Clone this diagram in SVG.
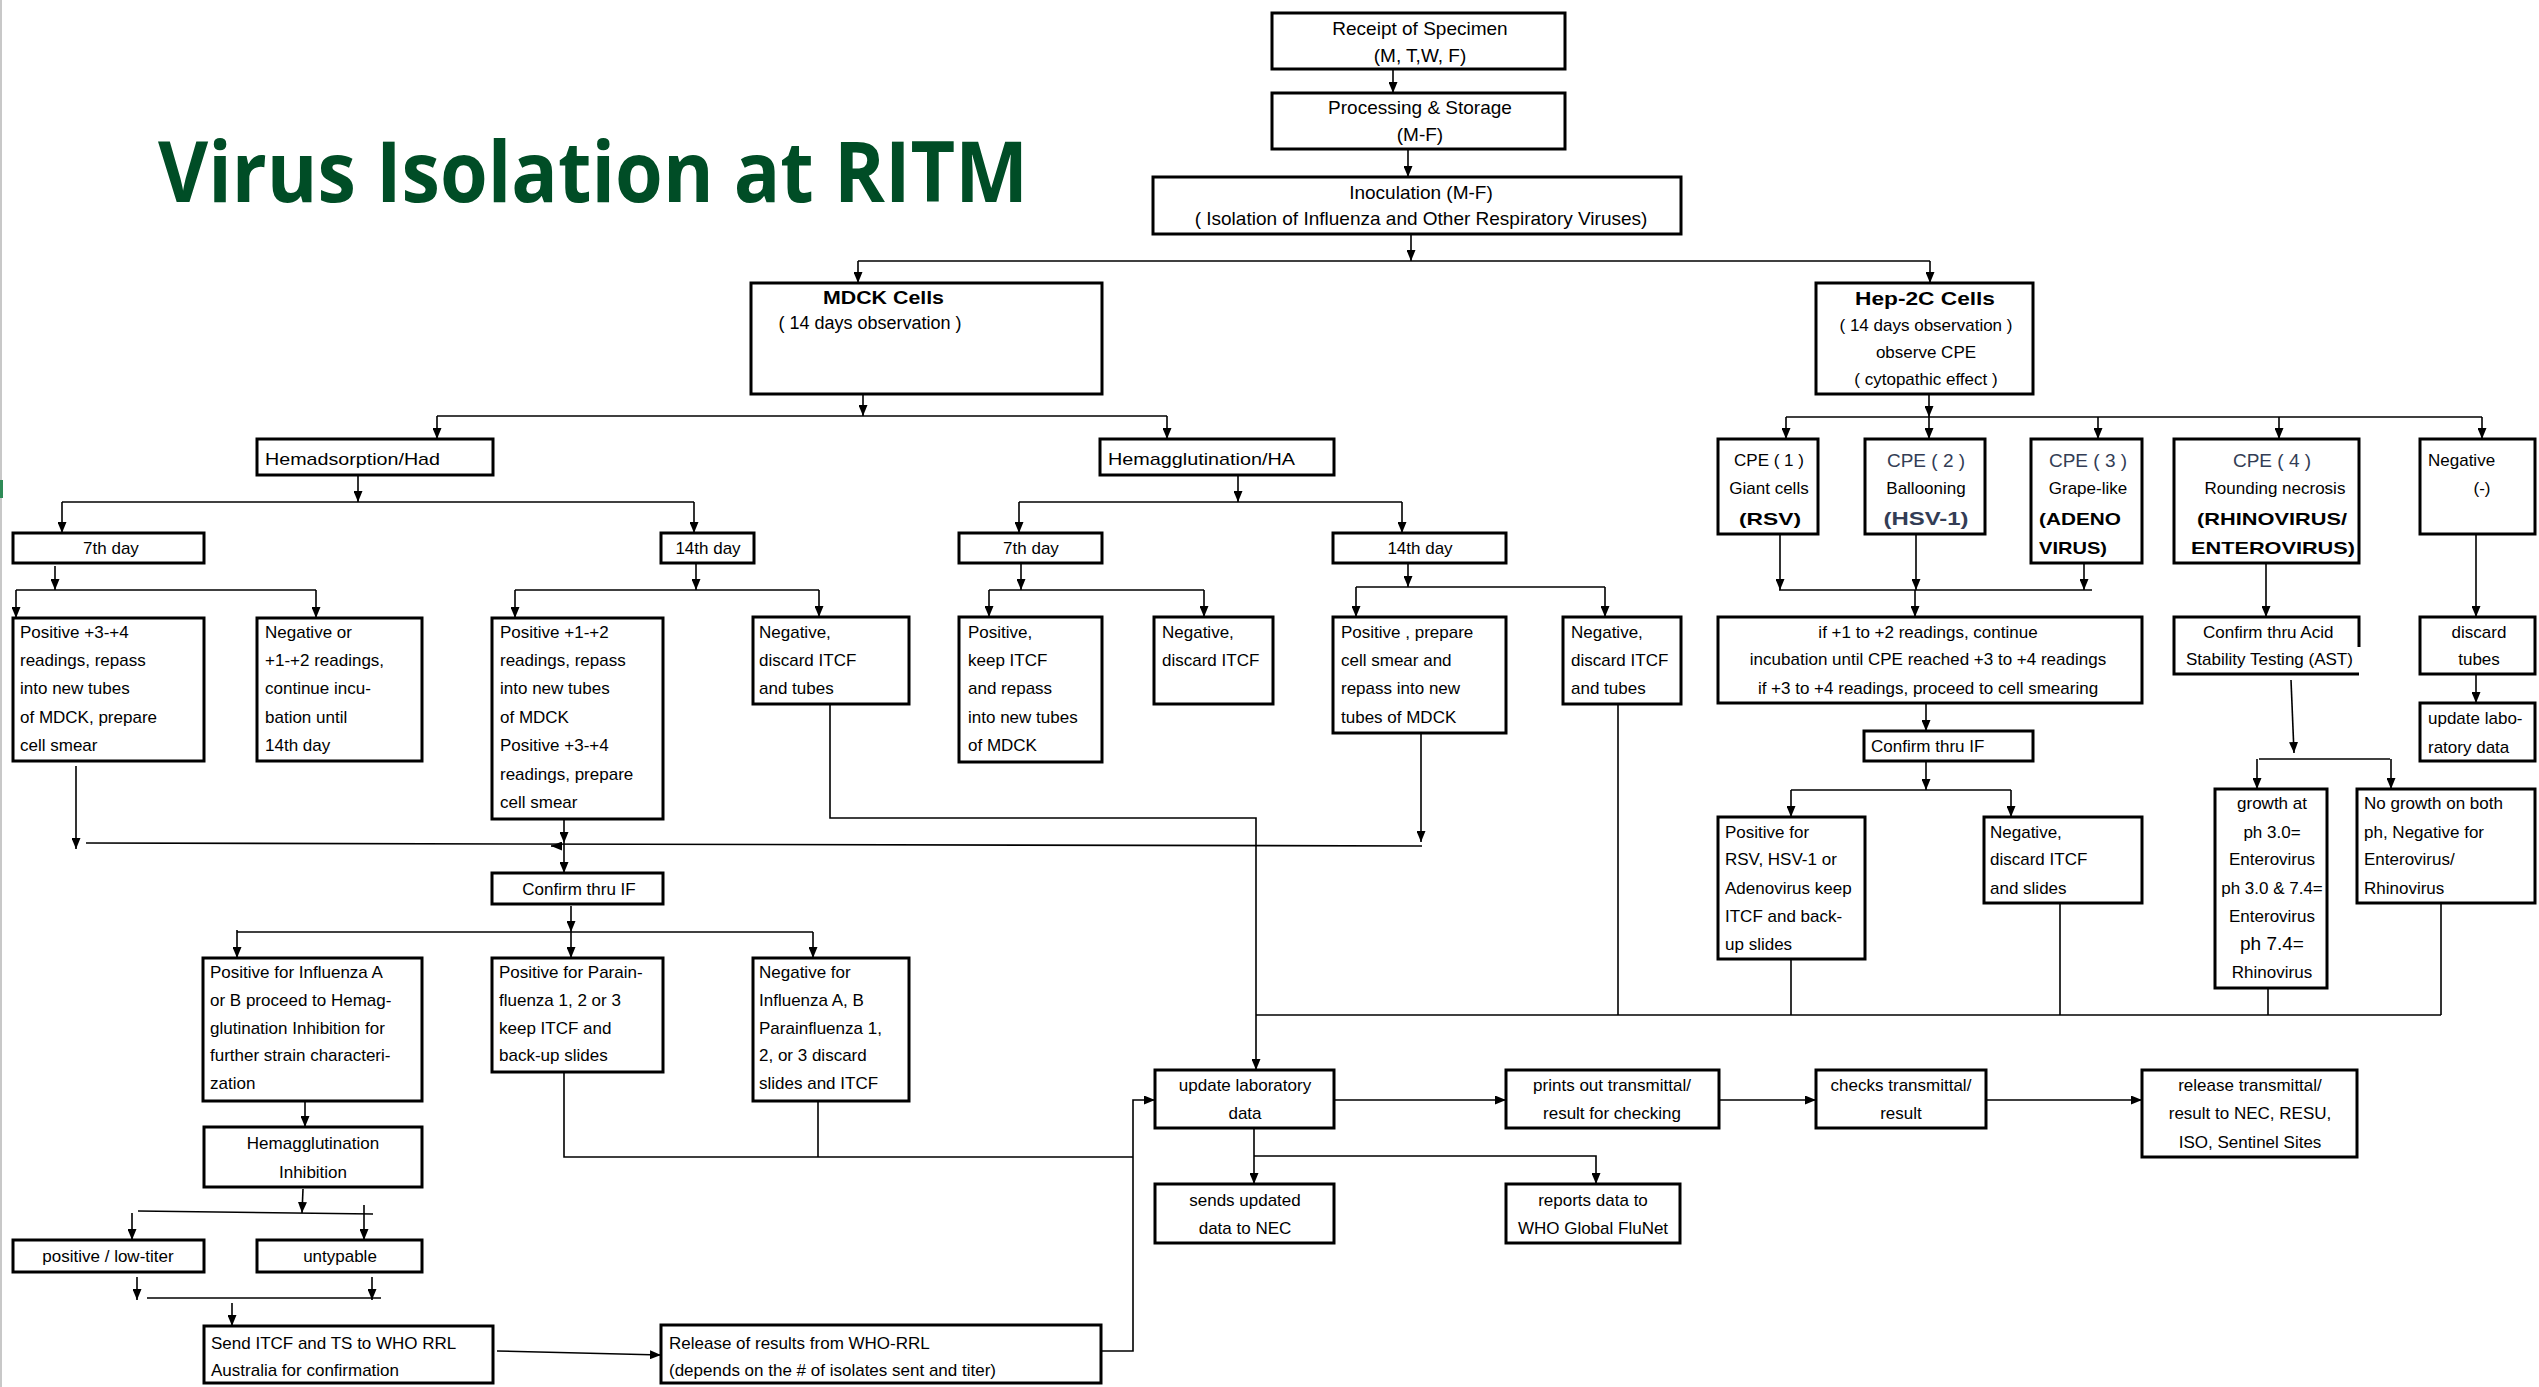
<svg xmlns="http://www.w3.org/2000/svg" width="2539" height="1387" viewBox="0 0 2539 1387">
<defs>
<marker id="ah" viewBox="0 0 11 9" refX="11" refY="4.5" markerWidth="11" markerHeight="9" markerUnits="userSpaceOnUse" orient="auto">
<path d="M0,0 L11,4.5 L0,9 z" fill="#000"/>
</marker>
<style>
.box{fill:#fff;stroke:#000;stroke-width:3}
.t{font-family:"Liberation Sans",Arial,sans-serif;font-size:17px;fill:#000}
.c{text-anchor:middle}
.b{font-weight:bold}
.big{font-size:19px}
.blu{fill:#333d55}
.ln{stroke:#000;stroke-width:1.6;fill:none}
.ar{marker-end:url(#ah)}
</style>
</defs>
<rect x="0" y="0" width="2539" height="1387" fill="#fff"/>
<line x1="1" y1="0" x2="1" y2="1387" stroke="#c8c8c8" stroke-width="2"/>
<rect x="0" y="480" width="3" height="18" fill="#2e8b57"/>
<text x="158" y="202" font-family="'Open Sans','Noto Sans',sans-serif" font-weight="bold" font-size="84" fill="#004d26" textLength="870" lengthAdjust="spacingAndGlyphs">Virus Isolation at RITM</text>

<g id="connectors">
<path class="ln ar" d="M1393,69 V93"/>
<path class="ln ar" d="M1408,149 V177"/>
<path class="ln ar" d="M1411,234 V261"/>
<path class="ln" d="M858,261 H1930"/>
<path class="ln ar" d="M858,261 V283"/>
<path class="ln ar" d="M1930,261 V283"/>
<path class="ln ar" d="M863,394 V416"/>
<path class="ln" d="M437,416 H1167"/>
<path class="ln ar" d="M437,416 V439"/>
<path class="ln ar" d="M1167,416 V439"/>
<path class="ln ar" d="M358,475 V502"/>
<path class="ln" d="M62,502 H694"/>
<path class="ln ar" d="M62,502 V533"/>
<path class="ln ar" d="M694,502 V533"/>
<path class="ln ar" d="M1238,475 V502"/>
<path class="ln" d="M1019,502 H1402"/>
<path class="ln ar" d="M1019,502 V533"/>
<path class="ln ar" d="M1402,502 V533"/>
<path class="ln ar" d="M55,566 V590"/>
<path class="ln" d="M16,590 H316"/>
<path class="ln ar" d="M16,590 V618"/>
<path class="ln ar" d="M316,590 V618"/>
<path class="ln ar" d="M696,563 V590"/>
<path class="ln" d="M515,590 H819"/>
<path class="ln ar" d="M515,590 V618"/>
<path class="ln ar" d="M819,590 V617"/>
<path class="ln ar" d="M1021,563 V590"/>
<path class="ln" d="M989,590 H1204"/>
<path class="ln ar" d="M989,590 V617"/>
<path class="ln ar" d="M1204,590 V617"/>
<path class="ln ar" d="M1408,563 V587"/>
<path class="ln" d="M1356,587 H1605"/>
<path class="ln ar" d="M1356,587 V617"/>
<path class="ln ar" d="M1605,587 V617"/>
<path class="ln ar" d="M76,766 V849"/>
<path class="ln" d="M86,843 L1422,846"/>
<path class="ln ar" d="M1421,733 V842"/>
<path class="ln ar" d="M564,819 V843"/>
<path class="ln ar" d="M564,843 V873"/>
<path class="ln ar" d="M562,846 L551,846"/>
<path class="ln ar" d="M571,906 V932"/>
<path class="ln" d="M237,932 H813"/>
<path class="ln ar" d="M237,930 V958"/>
<path class="ln ar" d="M571,932 V958"/>
<path class="ln ar" d="M813,932 V958"/>
<path class="ln ar" d="M305,1101 V1127"/>
<path class="ln ar" d="M303,1189 L302,1213"/>
<path class="ln" d="M138,1211 L373,1214"/>
<path class="ln ar" d="M132,1213 V1240"/>
<path class="ln ar" d="M364,1205 V1240"/>
<path class="ln ar" d="M137,1277 V1300"/>
<path class="ln ar" d="M372,1277 V1300"/>
<path class="ln" d="M147,1298 H381"/>
<path class="ln ar" d="M232,1303 V1326"/>
<path class="ln ar" d="M497,1351 L661,1355"/>
<path class="ln ar" d="M1101,1351 H1133 V1100 H1155"/>
<path class="ln" d="M564,1072 V1157 H1133"/>
<path class="ln" d="M818,1101 V1157"/>
<path class="ln ar" d="M830,704 V818 H1256 V1070"/>
<path class="ln" d="M1256,1015 H2441"/>
<path class="ln" d="M1618,704 V1015"/>
<path class="ln" d="M1791,959 V1015"/>
<path class="ln" d="M2060,903 V1015"/>
<path class="ln" d="M2268,988 V1015"/>
<path class="ln" d="M2441,903 V1015"/>
<path class="ln ar" d="M1254,1128 V1184"/>
<path class="ln ar" d="M1254,1156 H1596 V1184"/>
<path class="ln ar" d="M1334,1100 H1506"/>
<path class="ln ar" d="M1719,1100 H1816"/>
<path class="ln ar" d="M1986,1100 H2142"/>
<path class="ln ar" d="M1929,394 V417"/>
<path class="ln" d="M1786,417 H2482"/>
<path class="ln ar" d="M1786,417 V439"/>
<path class="ln ar" d="M1929,417 V439"/>
<path class="ln ar" d="M2098,417 V439"/>
<path class="ln ar" d="M2279,417 V439"/>
<path class="ln ar" d="M2482,417 V439"/>
<path class="ln ar" d="M1780,534 V590"/>
<path class="ln ar" d="M1916,534 V590"/>
<path class="ln ar" d="M2084,563 V590"/>
<path class="ln" d="M1779,590 H2092"/>
<path class="ln ar" d="M1915,590 V617"/>
<path class="ln ar" d="M2266,563 V617"/>
<path class="ln ar" d="M2476,534 V617"/>
<path class="ln ar" d="M1926,703 V731"/>
<path class="ln ar" d="M1926,761 V790"/>
<path class="ln" d="M1791,790 H2011"/>
<path class="ln ar" d="M1791,790 V817"/>
<path class="ln ar" d="M2011,790 V817"/>
<path class="ln ar" d="M2291,680 L2294,753"/>
<path class="ln" d="M2259,759 H2390"/>
<path class="ln ar" d="M2257,759 V789"/>
<path class="ln ar" d="M2391,759 V789"/>
<path class="ln ar" d="M2476,674 V703"/>
</g>

<g id="n-receipt"><rect class="box" x="1272" y="13" width="293" height="56"/>
<text class="t big c" x="1420" y="35">Receipt of Specimen</text><text class="t big c" x="1420" y="62">(M, T,W, F)</text></g>
<g id="n-processing"><rect class="box" x="1272" y="93" width="293" height="56"/>
<text class="t big c" x="1420" y="114">Processing &amp; Storage</text><text class="t big c" x="1420" y="141">(M-F)</text></g>
<g id="n-inoculation"><rect class="box" x="1153" y="177" width="528" height="57"/>
<text class="t big c" x="1421" y="199">Inoculation  (M-F)</text><text class="t big c" x="1421" y="225">( Isolation of Influenza and Other Respiratory Viruses)</text></g>

<g id="n-mdck"><rect class="box" x="751" y="283" width="351" height="111"/>
<text class="t big b" x="823" y="304" textLength="121" lengthAdjust="spacingAndGlyphs">MDCK Cells</text><text class="t c" x="870" y="329" style="font-size:18px">( 14 days observation )</text></g>
<g id="n-hep2c"><rect class="box" x="1816" y="283" width="217" height="111"/>
<text class="t big b" x="1855" y="305" textLength="140" lengthAdjust="spacingAndGlyphs">Hep-2C Cells</text>
<text class="t c" x="1926" y="331">( 14 days observation )</text>
<text class="t c" x="1926" y="358">observe CPE</text>
<text class="t c" x="1926" y="385">( cytopathic effect )</text></g>

<g id="n-had"><rect class="box" x="257" y="439" width="236" height="36"/><text class="t" x="265" y="465" textLength="175" lengthAdjust="spacingAndGlyphs">Hemadsorption/Had</text></g>
<g id="n-ha"><rect class="box" x="1100" y="439" width="234" height="36"/><text class="t" x="1108" y="465" textLength="187" lengthAdjust="spacingAndGlyphs">Hemagglutination/HA</text></g>

<g id="n-had-7th"><rect class="box" x="13" y="533" width="191" height="30"/><text class="t c" x="111" y="554">7th day</text></g>
<g id="n-had-14th"><rect class="box" x="661" y="533" width="93" height="30"/><text class="t c" x="708" y="554">14th day</text></g>
<g id="n-ha-7th"><rect class="box" x="959" y="533" width="143" height="30"/><text class="t c" x="1031" y="554">7th day</text></g>
<g id="n-ha-14th"><rect class="box" x="1333" y="533" width="173" height="30"/><text class="t c" x="1420" y="554">14th day</text></g>

<g id="n-had7-pos"><rect class="box" x="13" y="618" width="191" height="143"/>
<text class="t" x="20" y="638">Positive +3-+4</text><text class="t" x="20" y="666">readings,  repass</text><text class="t" x="20" y="694">into new tubes</text><text class="t" x="20" y="723">of MDCK, prepare</text><text class="t" x="20" y="751">cell smear</text></g>
<g id="n-had7-neg"><rect class="box" x="257" y="618" width="165" height="143"/>
<text class="t" x="265" y="638">Negative or</text><text class="t" x="265" y="666"> +1-+2 readings,</text><text class="t" x="265" y="694">continue incu-</text><text class="t" x="265" y="723">bation until</text><text class="t" x="265" y="751">14th day</text></g>
<g id="n-had14-pos"><rect class="box" x="492" y="618" width="171" height="201"/>
<text class="t" x="500" y="638">Positive +1-+2</text><text class="t" x="500" y="666">readings, repass</text><text class="t" x="500" y="694">into new tubes</text><text class="t" x="500" y="723">of MDCK</text><text class="t" x="500" y="751">Positive +3-+4</text><text class="t" x="500" y="780">readings,  prepare</text><text class="t" x="500" y="808">cell smear</text></g>
<g id="n-had14-neg"><rect class="box" x="753" y="617" width="156" height="87"/>
<text class="t" x="759" y="638">Negative,</text><text class="t" x="759" y="666">discard ITCF</text><text class="t" x="759" y="694">and  tubes</text></g>
<g id="n-ha7-pos"><rect class="box" x="959" y="617" width="143" height="145"/>
<text class="t" x="968" y="638">Positive,</text><text class="t" x="968" y="666">keep ITCF</text><text class="t" x="968" y="694">and repass</text><text class="t" x="968" y="723">into new tubes</text><text class="t" x="968" y="751">of MDCK</text></g>
<g id="n-ha7-neg"><rect class="box" x="1154" y="617" width="119" height="87"/>
<text class="t" x="1162" y="638">Negative,</text><text class="t" x="1162" y="666">discard ITCF</text></g>
<g id="n-ha14-pos"><rect class="box" x="1333" y="617" width="173" height="116"/>
<text class="t" x="1341" y="638">Positive , prepare</text><text class="t" x="1341" y="666">cell smear and</text><text class="t" x="1341" y="694">repass into new</text><text class="t" x="1341" y="723">tubes of MDCK</text></g>
<g id="n-ha14-neg"><rect class="box" x="1563" y="617" width="118" height="87"/>
<text class="t" x="1571" y="638">Negative,</text><text class="t" x="1571" y="666">discard ITCF</text><text class="t" x="1571" y="694">and  tubes</text></g>

<g id="n-confirm-if"><rect class="box" x="492" y="873" width="171" height="31"/><text class="t c" x="579" y="895">Confirm thru IF</text></g>
<g id="n-flu-pos"><rect class="box" x="203" y="958" width="219" height="143"/>
<text class="t" x="210" y="978">Positive for Influenza A</text><text class="t" x="210" y="1006">or B proceed to Hemag-</text><text class="t" x="210" y="1034">glutination Inhibition for</text><text class="t" x="210" y="1061">further strain characteri-</text><text class="t" x="210" y="1089">zation</text></g>
<g id="n-para-pos"><rect class="box" x="492" y="958" width="171" height="114"/>
<text class="t" x="499" y="978">Positive for Parain-</text><text class="t" x="499" y="1006">fluenza 1, 2 or 3</text><text class="t" x="499" y="1034">keep ITCF and</text><text class="t" x="499" y="1061">back-up slides</text></g>
<g id="n-flu-neg"><rect class="box" x="753" y="958" width="156" height="143"/>
<text class="t" x="759" y="978">Negative for</text><text class="t" x="759" y="1006">Influenza A, B</text><text class="t" x="759" y="1034">Parainfluenza  1,</text><text class="t" x="759" y="1061">2, or 3 discard</text><text class="t" x="759" y="1089">slides and ITCF</text></g>
<g id="n-hi"><rect class="box" x="204" y="1127" width="218" height="60"/>
<text class="t c" x="313" y="1149">Hemagglutination</text><text class="t c" x="313" y="1178">Inhibition</text></g>
<g id="n-lowtiter"><rect class="box" x="13" y="1240" width="191" height="32"/><text class="t c" x="108" y="1262">positive / low-titer</text></g>
<g id="n-untypable"><rect class="box" x="257" y="1240" width="165" height="32"/><text class="t c" x="340" y="1262">untypable</text></g>
<g id="n-send"><rect class="box" x="204" y="1326" width="289" height="57"/>
<text class="t" x="211" y="1349">Send ITCF and TS  to WHO RRL</text><text class="t" x="211" y="1376">Australia for confirmation</text></g>
<g id="n-release-who"><rect class="box" x="661" y="1325" width="440" height="58"/>
<text class="t" x="669" y="1349">Release of results from WHO-RRL</text><text class="t" x="669" y="1376">(depends on the # of isolates sent and titer)</text></g>

<g id="n-update"><rect class="box" x="1155" y="1070" width="179" height="58"/>
<text class="t c" x="1245" y="1091">update laboratory</text><text class="t c" x="1245" y="1119">data</text></g>
<g id="n-prints"><rect class="box" x="1506" y="1070" width="213" height="58"/>
<text class="t c" x="1612" y="1091">prints out transmittal/</text><text class="t c" x="1612" y="1119">result for checking</text></g>
<g id="n-checks"><rect class="box" x="1816" y="1070" width="170" height="58"/>
<text class="t c" x="1901" y="1091">checks transmittal/</text><text class="t c" x="1901" y="1119">result</text></g>
<g id="n-release"><rect class="box" x="2142" y="1070" width="215" height="87"/>
<text class="t c" x="2250" y="1091">release transmittal/</text><text class="t c" x="2250" y="1119">result to NEC, RESU,</text><text class="t c" x="2250" y="1148">ISO, Sentinel Sites</text></g>
<g id="n-sends"><rect class="box" x="1155" y="1184" width="179" height="59"/>
<text class="t c" x="1245" y="1206">sends updated</text><text class="t c" x="1245" y="1234">data to NEC</text></g>
<g id="n-reports"><rect class="box" x="1506" y="1184" width="174" height="59"/>
<text class="t c" x="1593" y="1206">reports data to</text><text class="t c" x="1593" y="1234">WHO Global FluNet</text></g>

<g id="n-cpe1"><rect class="box" x="1718" y="439" width="100" height="95"/>
<text class="t c" x="1769" y="466">CPE ( 1 )</text><text class="t c" x="1769" y="494">Giant cells</text><text class="t b c" x="1770" y="525" textLength="62" lengthAdjust="spacingAndGlyphs">(RSV)</text></g>
<g id="n-cpe2"><rect class="box" x="1865" y="439" width="120" height="95"/>
<text class="t big c blu" x="1926" y="467">CPE ( 2 )</text><text class="t c" x="1926" y="494">Ballooning</text><text class="t big b c blu" x="1926" y="525" textLength="85" lengthAdjust="spacingAndGlyphs">(HSV-1)</text></g>
<g id="n-cpe3"><rect class="box" x="2031" y="439" width="111" height="124"/>
<text class="t big c blu" x="2088" y="467">CPE ( 3 )</text><text class="t c" x="2088" y="494">Grape-like</text>
<text class="t b" x="2039" y="525" textLength="82" lengthAdjust="spacingAndGlyphs">(ADENO</text><text class="t b" x="2039" y="554" textLength="68" lengthAdjust="spacingAndGlyphs">VIRUS)</text></g>
<g id="n-cpe4"><rect class="box" x="2174" y="439" width="185" height="124"/>
<text class="t big c blu" x="2272" y="467">CPE ( 4 )</text><text class="t c" x="2275" y="494">Rounding necrosis</text>
<text class="t b" x="2197" y="525" textLength="150" lengthAdjust="spacingAndGlyphs">(RHINOVIRUS/</text><text class="t b" x="2191" y="554" textLength="164" lengthAdjust="spacingAndGlyphs">ENTEROVIRUS)</text></g>
<g id="n-cpe-neg"><rect class="box" x="2420" y="439" width="115" height="95"/>
<text class="t" x="2428" y="466">Negative</text><text class="t c" x="2482" y="494">(-)</text></g>
<g id="n-readings"><rect class="box" x="1718" y="617" width="424" height="86"/>
<text class="t c" x="1928" y="638">if +1 to +2 readings, continue</text><text class="t c" x="1928" y="665">incubation until CPE reached +3 to +4 readings</text><text class="t c" x="1928" y="694">if +3 to +4 readings, proceed to cell smearing</text></g>
<g id="n-confirm-if-2"><rect class="box" x="1864" y="731" width="169" height="30"/><text class="t" x="1871" y="752">Confirm thru IF</text></g>
<g id="n-rsv-pos"><rect class="box" x="1718" y="817" width="147" height="142"/>
<text class="t" x="1725" y="838">Positive for</text><text class="t" x="1725" y="865">RSV, HSV-1 or</text><text class="t" x="1725" y="894">Adenovirus keep</text><text class="t" x="1725" y="922">ITCF and back-</text><text class="t" x="1725" y="950">up slides</text></g>
<g id="n-neg-slides"><rect class="box" x="1984" y="817" width="158" height="86"/>
<text class="t" x="1990" y="838">Negative,</text><text class="t" x="1990" y="865">discard ITCF</text><text class="t" x="1990" y="894">and slides</text></g>
<g id="n-ast"><path d="M2359,647 V617 H2174 V674 H2359" fill="#fff" stroke="#000" stroke-width="3"/>
<text class="t" x="2203" y="638">Confirm thru Acid</text><text class="t" x="2186" y="665">Stability Testing (AST)</text></g>
<g id="n-discard"><rect class="box" x="2420" y="617" width="115" height="57"/>
<text class="t c" x="2479" y="638">discard</text><text class="t c" x="2479" y="665">tubes</text></g>
<g id="n-update-2"><rect class="box" x="2420" y="703" width="115" height="58"/>
<text class="t" x="2428" y="724">update labo-</text><text class="t" x="2428" y="753">ratory data</text></g>
<g id="n-growth"><rect class="box" x="2215" y="789" width="112" height="199"/>
<text class="t c" x="2272" y="809">growth at</text><text class="t c" x="2272" y="838">ph 3.0=</text><text class="t c" x="2272" y="865">Enterovirus</text><text class="t c" x="2272" y="894">ph 3.0 &amp; 7.4=</text><text class="t c" x="2272" y="922">Enterovirus</text><text class="t big c" x="2272" y="950">ph 7.4=</text><text class="t c" x="2272" y="978">Rhinovirus</text></g>
<g id="n-nogrowth"><rect class="box" x="2357" y="789" width="178" height="114"/>
<text class="t" x="2364" y="809">No growth on both</text><text class="t" x="2364" y="838">ph, Negative for</text><text class="t" x="2364" y="865">Enterovirus/</text><text class="t" x="2364" y="894">Rhinovirus</text></g>
</svg>
